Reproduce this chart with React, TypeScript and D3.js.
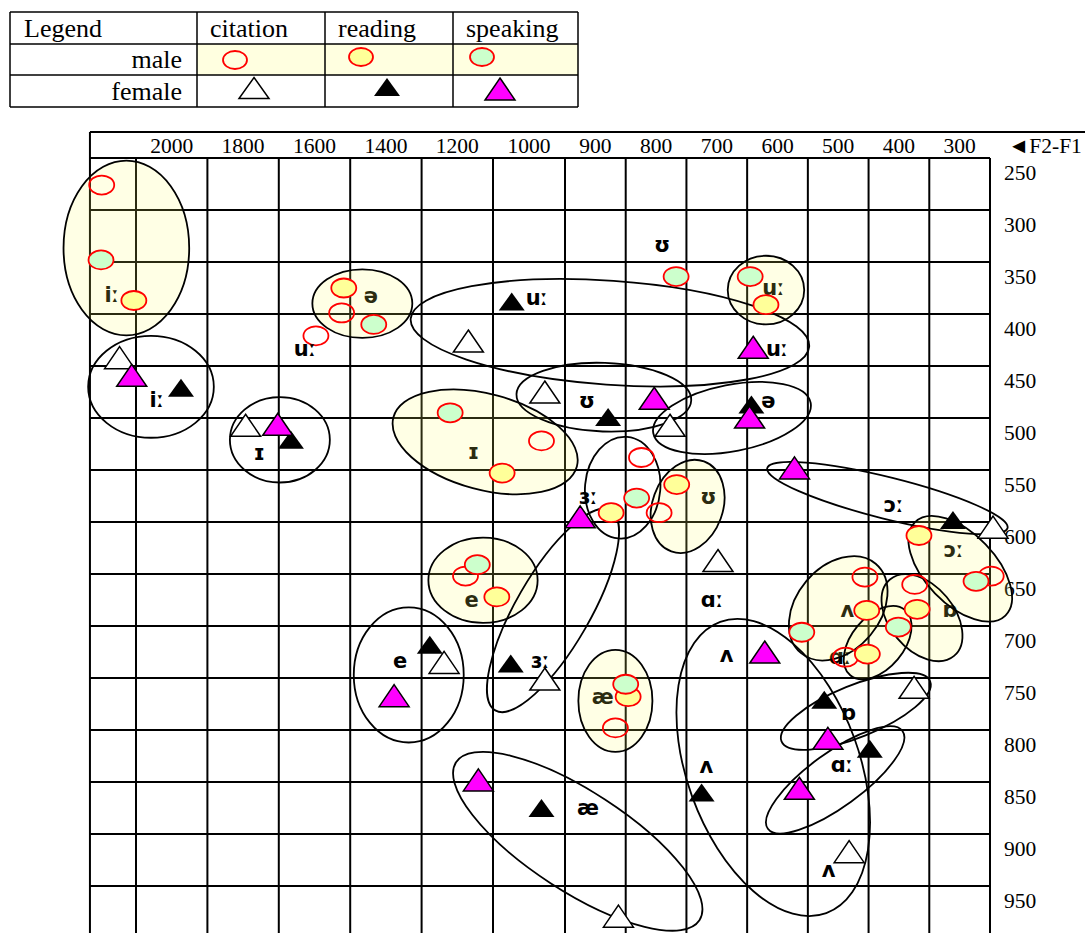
import React from 'react';
import * as d3 from 'd3';

const W = 1085;
const H = 933;

// F2-F1 scale break values (Hz) and grid / label values
const xBreaks = [2100, 1100, 950, 250];
const xGridValues = [2100, 1900, 1700, 1500, 1300, 1100, 950, 850, 750, 650, 550, 450, 350, 250];
const xTickLabels = ['2000', '1800', '1600', '1400', '1200', '1000', '900', '800', '700', '600', '500', '400', '300'];
const yGridValues = [225, 275, 325, 375, 425, 475, 525, 575, 625, 675, 725, 775, 825, 875, 925, 975];
const yTickLabels = [250, 300, 350, 400, 450, 500, 550, 600, 650, 700, 750, 800, 850, 900, 950];
const F2F1_MAX = 2229;

// [vowel, F2-F1, F1]
const maleCitation: [string, number, number][] = [
  ['iː', 2196, 251], ['ə', 1524, 374], ['uː', 1596, 396], ['ɪ', 999, 497],
  ['ɜː', 824, 513], ['ʊ', 795, 566], ['e', 1177, 627], ['æ', 867, 773],
  ['ʌ', 456, 628], ['ɒ', 374, 635], ['ɑː', 488, 705], ['ɔː', 248, 627],
];
const maleReading: [string, number, number][] = [
  ['iː', 2106, 362], ['ə', 1518, 350], ['ɪ', 1081, 528], ['uː', 619, 366],
  ['ɜː', 874, 566], ['ʊ', 766, 539], ['e', 1092, 647], ['æ', 846, 743],
  ['ʌ', 453, 660], ['ɒ', 370, 659], ['ɑː', 452, 702], ['ɔː', 367, 588],
];
const maleSpeaking: [string, number, number][] = [
  ['iː', 2198, 323], ['ə', 1434, 385], ['ɪ', 1220, 470], ['uː', 645, 339],
  ['ʊ', 767, 339], ['ɜː', 832, 552], ['e', 1144, 616], ['æ', 850, 731],
  ['ʌ', 560, 681], ['ɒ', 401, 676], ['ɔː', 273, 632],
];
const femaleCitation: [string, number, number][] = [
  ['iː', 2146, 417], ['ɪ', 1793, 482], ['uː', 1169, 401], ['ʊ', 992, 450],
  ['ə', 777, 482], ['ɔː', 245, 580], ['ɑː', 698, 612], ['e', 1237, 710],
  ['ɜː', 992, 726], ['æ', 862, 954], ['ʌ', 482, 892], ['ɒ', 375, 734],
];
const femaleReading: [string, number, number][] = [
  ['iː', 1974, 446], ['ɪ', 1666, 496], ['uː', 1061, 363], ['ʊ', 879, 474],
  ['ə', 643, 462], ['ɔː', 311, 573], ['e', 1277, 693], ['ɜː', 1063, 711],
  ['æ', 999, 850], ['ʌ', 725, 835], ['ɒ', 523, 746], ['ɑː', 448, 793],
];
const femaleSpeaking: [string, number, number][] = [
  ['iː', 2112, 434], ['ɪ', 1703, 481], ['uː', 640, 407], ['ʊ', 803, 456],
  ['ə', 646, 474], ['ɔː', 572, 523], ['ɜː', 925, 570], ['e', 1377, 742],
  ['æ', 1141, 823], ['ʌ', 621, 700], ['ɒ', 517, 783], ['ɑː', 564, 831],
];

// group ellipses: [vowel, centre F2-F1, centre F1, radius F2-F1 (Hz), radius F1 (Hz), tilt deg]
const maleGroups: [string, number, number, number, number, number][] = [
  ['iː', 2127, 311.5, 176, 84, 0], ['ə', 1466, 365, 140, 33, 0],
  ['ɪ', 1122, 498, 266, 46, 15], ['uː', 619, 352, 63, 33, 0],
  ['ʊ', 748, 560, 58, 46, 20], ['e', 1128, 631, 153, 41, 0],
  ['æ', 867, 747, 61, 49, 0], ['ʌ', 500, 658, 69, 56, 40],
  ['ɑː', 435, 691, 43, 41, 40], ['ɒ', 362, 667, 53, 48, -40],
  ['ɔː', 299, 620, 58, 62.5, -44],
];
const maleOpenGroups: [string, number, number, number, number, number][] = [
  ['ɜː', 855, 542, 62, 49, 5],
];
const femaleGroups: [string, number, number, number, number, number][] = [
  ['iː', 2058, 445, 176, 49, 0], ['ɪ', 1697, 496, 140, 41, 0],
  ['uː', 876, 393, 329, 50, 4], ['ʊ', 886, 455, 144, 33, 2],
  ['ə', 675, 475, 132, 32, -11], ['ɔː', 419, 552, 204, 20, 14],
  ['ɜː', 975, 660, 77, 111, 30], ['e', 1336, 722, 154, 65, 0],
  ['æ', 929, 882, 239, 48, 33], ['ʌ', 607, 811, 142, 149, -20],
  ['ɒ', 471, 757, 132, 25, -22], ['ɑː', 505, 823, 137, 26, -36],
];

// vowel labels [text, F2-F1, F1]
const maleLabels: [string, number, number][] = [
  ['iː', 2168, 357], ['ə', 1442, 358], ['ɪ', 1155, 508], ['uː', 607, 350],
  ['ʊ', 714, 551], ['e', 1160, 650], ['æ', 888, 743], ['ʌ', 485, 660],
  ['ɒ', 316, 660], ['ɔː', 310, 602], ['ɑː', 497, 705],
];
const otherLabels: [string, number, number][] = [
  ['uː', 1627, 409], ['ʊ', 790, 309], ['iː', 2042, 458], ['ɪ', 1755, 509],
  ['uː', 1009, 360], ['uː', 601, 409], ['ʊ', 914, 459], ['ə', 615, 459],
  ['ɔː', 409, 559], ['ɜː', 912, 551], ['ɑː', 708, 650], ['ɜː', 1002, 709],
  ['e', 1360, 709], ['æ', 912, 850], ['ʌ', 684, 703], ['ʌ', 717, 810],
  ['ʌ', 516, 910], ['ɒ', 483, 759], ['ɑː', 494, 809],
];

const legendCols = ['citation', 'reading', 'speaking'];
const legendRows = ['male', 'female'];

const YELLOW = '#ffff99';
const GREEN = '#ccffcc';
const MAGENTA = '#ff00ff';
const RED = '#ff0000';
const SERIF = '"Liberation Serif", "Times New Roman", serif';
const SANS = '"DejaVu Sans", sans-serif';
const LABEL_SIZE = 21;

const triPath = (cx: number, cy: number, w: number, h: number) => {
  const p = d3.path();
  p.moveTo(cx, cy - h / 2);
  p.lineTo(cx + w / 2, cy + h / 2);
  p.lineTo(cx - w / 2, cy + h / 2);
  p.closePath();
  return p.toString();
};

export default function App() {
  const x = d3.scaleLinear().domain(xBreaks).range([136, 493, 565, 990]);
  const y = d3.scaleLinear().domain([225, 975]).range([158, 938]);
  const slopeX = (v: number) => Math.abs(x(v - 1) - x(v + 1)) / 2;
  const slopeY = Math.abs(y(1) - y(0));

  const left = x(F2F1_MAX);
  const right = x(250);
  const top = y(225);
  const headerTop = top - 26;

  const ell = (g: [string, number, number, number, number, number]) => ({
    cx: x(g[1]), cy: y(g[2]), rx: g[3] * slopeX(g[1]), ry: g[4] * slopeY, a: g[5],
  });

  const circ = (d: [string, number, number], fill: string, k: string) => (
    <ellipse key={k} cx={x(d[1])} cy={y(d[2])} rx={12.5} ry={9.5} fill={fill} stroke={RED} strokeWidth={1.8} />
  );

  // legend geometry
  const lgX = [10, 197, 325, 453, 578];
  const lgY = [12, 44, 75, 107];

  return (
    <svg width={W} height={H} style={{ position: 'absolute', left: 0, top: 0, background: '#fff' }}>
      <rect x={0} y={0} width={W} height={H} fill="#fff" />

      {/* Legend table */}
      <g>
        <rect x={lgX[1]} y={lgY[1]} width={lgX[4] - lgX[1]} height={lgY[2] - lgY[1]} fill="#ffffe0" />
        {lgX.map((v, i) => (
          <line key={'lx' + i} x1={v} x2={v} y1={lgY[0]} y2={lgY[3]} stroke="#000" strokeWidth={1.5} />
        ))}
        {lgY.map((v, i) => (
          <line key={'ly' + i} x1={lgX[0]} x2={lgX[4]} y1={v} y2={v} stroke="#000" strokeWidth={1.5} />
        ))}
        <text x={24} y={(lgY[0] + lgY[1]) / 2} dominantBaseline="central" fontFamily={SERIF} fontSize={26}>Legend</text>
        {legendCols.map((c, i) => (
          <text key={c} x={lgX[i + 1] + 13} y={(lgY[0] + lgY[1]) / 2} dominantBaseline="central" fontFamily={SERIF} fontSize={26}>{c}</text>
        ))}
        {legendRows.map((r, i) => (
          <text key={r} x={lgX[1] - 15} y={(lgY[i + 1] + lgY[i + 2]) / 2} textAnchor="end" dominantBaseline="central" fontFamily={SERIF} fontSize={26}>{r}</text>
        ))}
        <ellipse cx={235} cy={60} rx={12} ry={9} fill="none" stroke={RED} strokeWidth={1.8} />
        <ellipse cx={361} cy={57} rx={12} ry={9} fill={YELLOW} stroke={RED} strokeWidth={1.8} />
        <ellipse cx={482} cy={57} rx={12} ry={9} fill={GREEN} stroke={RED} strokeWidth={1.8} />
        <path d={triPath(254, 88, 30, 21)} fill="#fff" stroke="#000" strokeWidth={1.5} />
        <path d={triPath(387, 87, 26, 18)} fill="#000" />
        <path d={triPath(500, 89, 30, 22)} fill={MAGENTA} stroke="#000" strokeWidth={1.5} />
      </g>

      {/* Header row */}
      <line x1={left} x2={W} y1={headerTop} y2={headerTop} stroke="#000" strokeWidth={2} />
      <line x1={left} x2={left} y1={headerTop} y2={H} stroke="#000" strokeWidth={2} />
      {xTickLabels.map((t, i) => (
        <text key={'xt' + i} x={(x(xGridValues[i]) + x(xGridValues[i + 1])) / 2} y={(headerTop + top) / 2 + 1}
          textAnchor="middle" dominantBaseline="central" fontFamily={SERIF} fontSize={21.5}>{t}</text>
      ))}
      <text x={1008} y={(headerTop + top) / 2 + 1} dominantBaseline="central" fontFamily={SERIF} fontSize={21.5}>◄F2-F1</text>

      {/* Grid */}
      {xGridValues.map((v, i) => (
        <line key={'gx' + i} x1={x(v)} x2={x(v)} y1={top} y2={H} stroke="#000" strokeWidth={2} />
      ))}
      {yGridValues.map((v, i) => (
        <line key={'gy' + i} x1={left} x2={right} y1={y(v)} y2={y(v)} stroke="#000" strokeWidth={2} />
      ))}
      {yTickLabels.map((v) => (
        <text key={'yt' + v} x={1004} y={y(v) - 11} dominantBaseline="central" fontFamily={SERIF} fontSize={21.5}>{v}</text>
      ))}

      {/* male labels under fill */}
      {maleLabels.map((l, i) => (
        <text key={'ml' + i} x={x(l[1])} y={y(l[2])} textAnchor="middle" dominantBaseline="central"
          fontFamily={SANS} fontWeight="bold" fontSize={LABEL_SIZE}>{l[0]}</text>
      ))}

      {/* male group fills */}
      {maleGroups.map((g, i) => {
        const e = ell(g);
        return (
          <ellipse key={'mf' + i} cx={0} cy={0} rx={e.rx} ry={e.ry}
            transform={`translate(${e.cx},${e.cy}) rotate(${e.a})`} fill="#ffff66" fillOpacity={0.17} stroke="none" />
        );
      })}

      {/* ellipse outlines */}
      {[...maleGroups, ...maleOpenGroups, ...femaleGroups].map((g, i) => {
        const e = ell(g);
        return (
          <ellipse key={'eo' + i} cx={0} cy={0} rx={e.rx} ry={e.ry}
            transform={`translate(${e.cx},${e.cy}) rotate(${e.a})`} fill="none" stroke="#000" strokeWidth={1.8} />
        );
      })}

      {/* male circles */}
      {maleCitation.map((d, i) => circ(d, 'none', 'mc' + i))}
      {maleReading.map((d, i) => circ(d, YELLOW, 'mr' + i))}
      {maleSpeaking.map((d, i) => circ(d, GREEN, 'ms' + i))}

      {/* female triangles */}
      {femaleCitation.map((d, i) => (
        <path key={'fc' + i} d={triPath(x(d[1]), y(d[2]), 30, 22)} fill="#fff" stroke="#000" strokeWidth={1.5} />
      ))}
      {femaleReading.map((d, i) => (
        <path key={'fr' + i} d={triPath(x(d[1]), y(d[2]), 26, 18)} fill="#000" />
      ))}
      {femaleSpeaking.map((d, i) => (
        <path key={'fs' + i} d={triPath(x(d[1]), y(d[2]), 30, 22)} fill={MAGENTA} stroke="#000" strokeWidth={1.5} />
      ))}

      {/* other labels */}
      {otherLabels.map((l, i) => (
        <text key={'ol' + i} x={x(l[1])} y={y(l[2])} textAnchor="middle" dominantBaseline="central"
          fontFamily={SANS} fontWeight="bold" fontSize={LABEL_SIZE}>{l[0]}</text>
      ))}
    </svg>
  );
}
